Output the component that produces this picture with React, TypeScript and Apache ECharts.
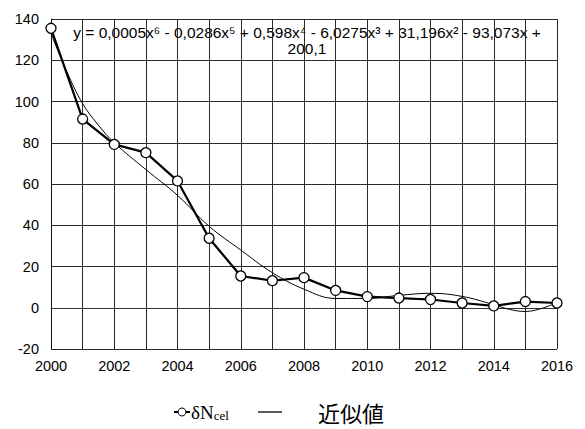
import React, { useEffect, useRef } from "react";
import * as echarts from "echarts";

const years = [2000, 2001, 2002, 2003, 2004, 2005, 2006, 2007, 2008, 2009, 2010, 2011, 2012, 2013, 2014, 2015, 2016];
const deltaN = [135.5, 91.5, 79.2, 75.2, 61.5, 33.7, 15.4, 13.1, 14.6, 8.4, 5.4, 4.7, 4.0, 2.3, 0.9, 3.0, 2.3];

const trendYears = [2000, 2000.5, 2001, 2001.5, 2002, 2003, 2004, 2005, 2006, 2007, 2008, 2009, 2010, 2011, 2012, 2013, 2014, 2014.5, 2015, 2016];
const trendValues = [133, 114.5, 99, 88.5, 80, 67, 54.5, 39.5, 28, 17, 9, 4.5, 4.5, 6, 7, 5.5, 1.5, -0.8, -1.8, 2.5];

const yTicks = { min: -20, max: 140, interval: 20 };
const equationLines = [
  "y = 0,0005x⁶ - 0,0286x⁵ + 0,598x⁴ - 6,0275x³ + 31,196x² - 93,073x +",
  "200,1",
];
const seriesNames = ["δNcel", "近似値"];

export default function App() {
  const ref = useRef<HTMLDivElement>(null);
  useEffect(() => {
    if (!ref.current) return;
    const chart = echarts.init(ref.current, null, { renderer: "svg" });
    const font = '"Liberation Sans", Arial, sans-serif';
    const legendY = 412;
    chart.setOption({
      animation: false,
      backgroundColor: "#fff",
      grid: { left: 51, right: 28, top: 19, bottom: 80, outerBoundsMode: "none", containLabel: false },
      xAxis: {
        type: "value",
        min: 2000,
        max: 2016,
        interval: 1,
        axisLine: { show: true, lineStyle: { color: "#333", width: 1 } },
        axisTick: { show: false },
        axisLabel: {
          color: "#000",
          fontFamily: font,
          fontSize: 14.5,
          margin: 9,
          formatter: (v: number) => (v % 2 === 0 ? String(v) : ""),
        },
        splitLine: { show: true, lineStyle: { color: "#2a2a2a", width: 1 } },
      },
      yAxis: {
        type: "value",
        min: yTicks.min,
        max: yTicks.max,
        interval: yTicks.interval,
        axisLine: { show: true, lineStyle: { color: "#111", width: 1 } },
        axisTick: { show: false },
        axisLabel: { color: "#000", fontFamily: font, fontSize: 14.5, margin: 12 },
        splitLine: { show: true, lineStyle: { color: "#2a2a2a", width: 1 } },
      },
      graphic: [
        {
          type: "text",
          x: 307,
          y: 24,
          silent: true,
          style: {
            text: equationLines.join("\n"),
            align: "center",
            verticalAlign: "top",
            font: '15.5px "Liberation Sans", Arial, sans-serif',
            lineHeight: 16,
            fill: "#000",
          },
        },
        {
          type: "line",
          silent: true,
          shape: { x1: 174, y1: legendY, x2: 190, y2: legendY },
          style: { stroke: "#000", lineWidth: 2 },
        },
        {
          type: "circle",
          silent: true,
          shape: { cx: 182, cy: legendY, r: 4 },
          style: { fill: "#fff", stroke: "#000", lineWidth: 1 },
        },
        {
          type: "text",
          silent: true,
          x: 191,
          y: legendY,
          style: {
            text: "{a|δN}{b|cel}",
            verticalAlign: "middle",
            align: "left",
            rich: {
              a: { fontFamily: '"Liberation Serif", serif', fontSize: 19, fill: "#000", lineHeight: 22 },
              b: { fontFamily: '"Liberation Serif", serif', fontSize: 13, fill: "#000", padding: [6, 0, 0, 0], lineHeight: 22 },
            },
          },
        },
        {
          type: "line",
          silent: true,
          shape: { x1: 258, y1: legendY, x2: 282, y2: legendY },
          style: { stroke: "#000", lineWidth: 1.3 },
        },
        {
          type: "text",
          silent: true,
          x: 318,
          y: legendY,
          style: {
            text: seriesNames[1],
            verticalAlign: "middle",
            align: "left",
            font: '22px "Noto Sans CJK JP", sans-serif',
            lineHeight: 24,
            fill: "#000",
          },
        },
      ],
      series: [
        {
          name: seriesNames[1],
          type: "line",
          data: trendYears.map((y, i) => [y, trendValues[i]]),
          smooth: 0.4,
          showSymbol: false,
          symbol: "none",
          lineStyle: { color: "#000", width: 1 },
          itemStyle: { color: "#000" },
          z: 2,
        },
        {
          name: seriesNames[0],
          type: "line",
          data: years.map((y, i) => [y, deltaN[i]]),
          symbol: "circle",
          symbolSize: 10,
          showSymbol: true,
          lineStyle: { color: "#000", width: 2.2 },
          itemStyle: { color: "#fff", borderColor: "#000", borderWidth: 1.3 },
          z: 3,
        },
      ],
    });
    return () => chart.dispose();
  }, []);
  return <div ref={ref} style={{ width: 585, height: 429, position: "absolute", left: 0, top: 0 }} />;
}
